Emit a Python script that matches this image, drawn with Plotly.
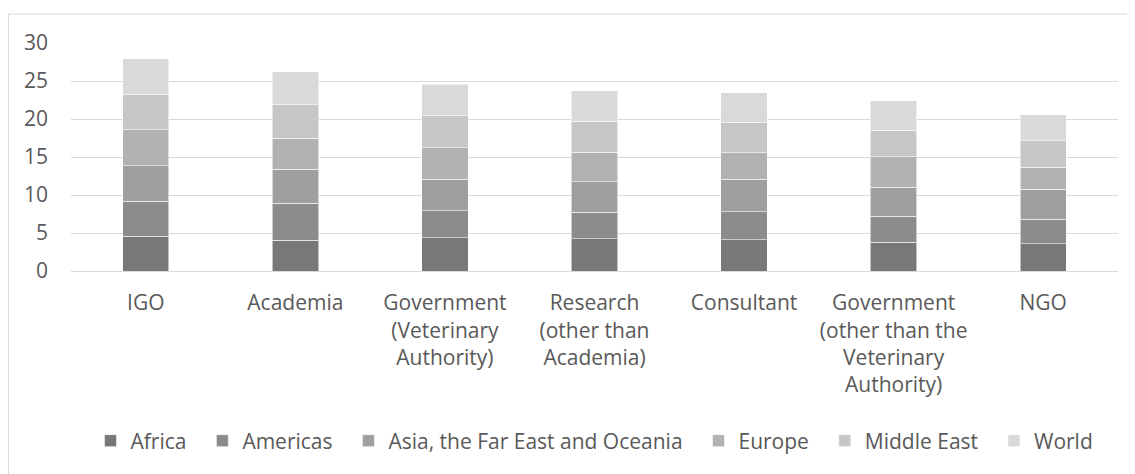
import plotly.graph_objects as go

categories = ["IGO", "Academia", "Government<br>(Veterinary<br>Authority)",
              "Research<br>(other than<br>Academia)", "Consultant",
              "Government<br>(other than the<br>Veterinary<br>Authority)", "NGO"]

africa = [4.6, 4.05, 4.4, 4.25, 4.1, 3.8, 3.6]
americas = [4.6, 4.85, 3.5, 3.45, 3.7, 3.4, 3.2]
asia = [4.65, 4.5, 4.15, 4.05, 4.3, 3.8, 3.95]
europe = [4.75, 4.1, 4.15, 3.9, 3.45, 4.05, 2.9]
middle_east = [4.6, 4.35, 4.2, 4.05, 4.0, 3.45, 3.5]
world = [4.75, 4.4, 4.2, 4.05, 3.9, 3.9, 3.4]

series_names = ["Africa", "Americas", "Asia, the Far East and Oceania",
                "Europe", "Middle East", "World"]
series_values = [africa, americas, asia, europe, middle_east, world]
series_colors = ["#787878", "#8c8c8c", "#9f9f9f", "#b2b2b2", "#c6c6c6", "#d9d9d9"]

y_ticks = [0, 5, 10, 15, 20, 25, 30]

FONT = "Open Sans"
TXT = "#595959"
PAD = "\u00a0\u00a0"

fig = go.Figure()
for i, (name, vals, col) in enumerate(zip(series_names, series_values, series_colors)):
    label = name + (PAD if i < len(series_names) - 1 else "")
    fig.add_trace(go.Bar(
        x=categories, y=vals, name=label,
        marker=dict(color=col, line=dict(color="rgba(255,255,255,0.55)", width=1)),
        width=0.31,
    ))

# page body has an 8px margin: figure starts at (8, 8) in the window
OFF = 8
W, H = 1127, 466
ml, mr, mt, mb = 71 - OFF, 17, 43 - OFF, 203
pw = W - ml - mr
ph = H - mt - mb

def px_to_paper_x(px):
    return (px - OFF - ml) / pw

def px_to_paper_y(py):
    return (OFF + H - mb - py) / ph

fig.update_layout(
    width=W, height=H,
    barmode="stack",
    margin=dict(l=ml, r=mr, t=mt, b=mb, pad=0),
    paper_bgcolor="white", plot_bgcolor="white",
    font=dict(family=FONT, size=21, color=TXT),
    showlegend=True,
    legend=dict(
        orientation="h", x=0.5, xanchor="center",
        y=px_to_paper_y(441), yanchor="middle",
        font=dict(family=FONT, size=21, color=TXT),
        traceorder="normal", itemwidth=30,
        bgcolor="rgba(0,0,0,0)",
    ),
    xaxis=dict(
        showgrid=False, showline=True, linecolor="#d9d9d9", linewidth=1,
        ticks="", tickfont=dict(family=FONT, size=21, color=TXT),
        ticklabelstandoff=13, fixedrange=True,
    ),
    yaxis=dict(
        range=[0, 30], tickvals=y_ticks, showgrid=True, gridcolor="#d9d9d9",
        gridwidth=1, zeroline=False, showline=False, ticks="",
        tickfont=dict(family=FONT, size=21, color=TXT),
        ticklabelstandoff=22, fixedrange=True,
    ),
    shapes=[dict(
        type="rect", xref="paper", yref="paper",
        x0=px_to_paper_x(8.5), x1=px_to_paper_x(1145),
        y0=px_to_paper_y(490), y1=px_to_paper_y(14),
        line=dict(color="#d9d9d9", width=1), fillcolor="rgba(0,0,0,0)",
        layer="below",
    )],
)

fig.write_html("out.html")
